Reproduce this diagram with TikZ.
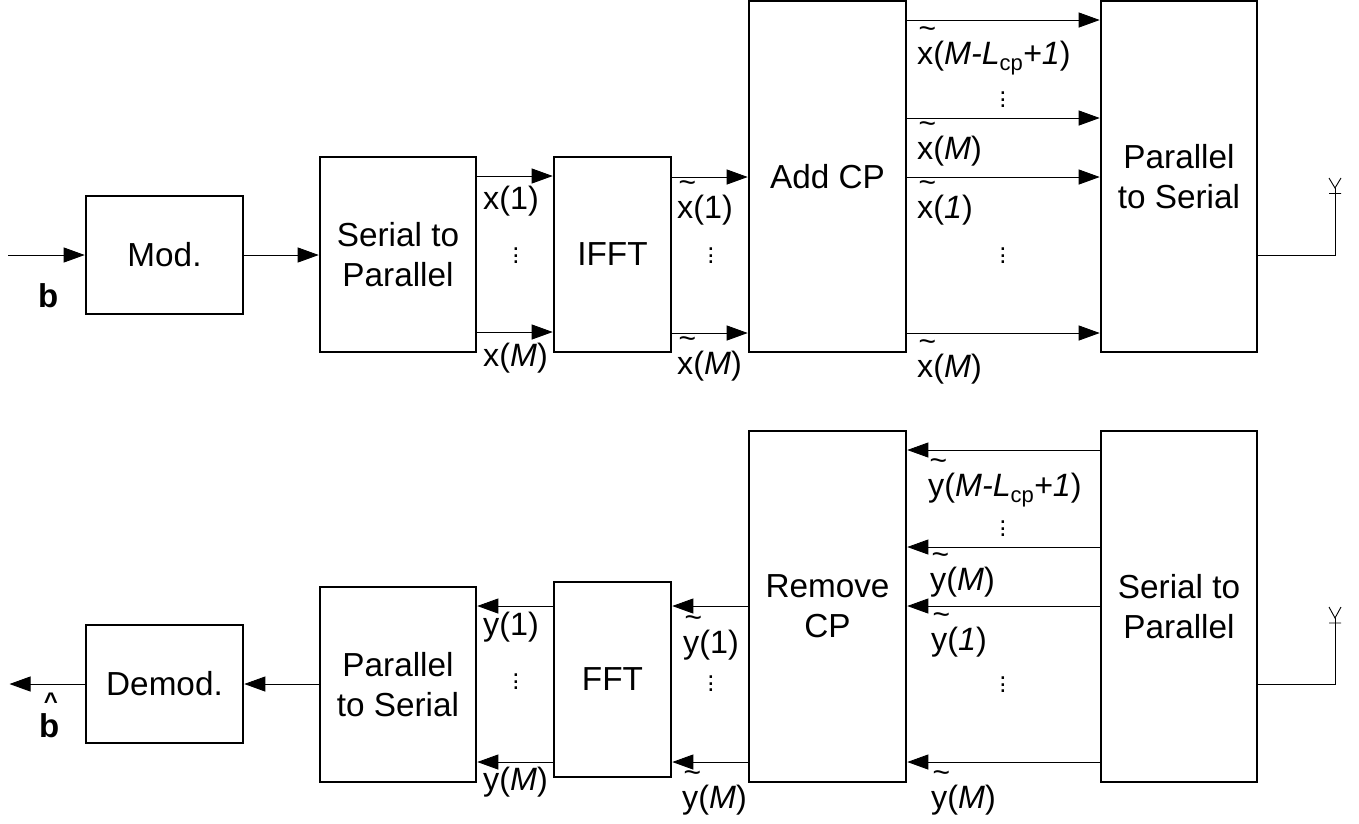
\documentclass[tikz,border=0pt]{standalone}
\usepackage{fontspec}
\setmainfont{Liberation Sans}
\usetikzlibrary{arrows.meta}
\newcommand\tildeover[1]{\leavevmode\rlap{\hspace{0.04em}\raisebox{0.8em}{\fontsize{30}{30}\selectfont\textasciitilde}}#1}
\newcommand\hatover[1]{\leavevmode\rlap{\hspace{0.14em}\raisebox{0.82em}{\fontsize{24}{24}\selectfont\textasciicircum}}#1}
\newcommand\sbs[1]{\raisebox{-0.2em}{\fontsize{22}{22}\selectfont #1}}
\tikzset{
 blockbox/.style={draw,line width=1.6pt,fill=white,inner sep=0pt,align=center,font=\fontsize{33.3}{40}\selectfont},
 sig/.style={line width=0.9pt,-{Triangle[length=21pt,width=15pt]},shorten >=0.5pt},
 wire/.style={line width=0.9pt},
 lab/.style={anchor=base west,inner sep=0pt,font=\fontsize{32.3}{36}\selectfont},
 boldlab/.style={lab,font=\fontsize{33}{36}\selectfont\bfseries},
 dotsn/.style={inner sep=0pt,font=\fontsize{16}{16}\selectfont}
}
\newcommand\vd{\scalebox{1.6}{$\vdots$}}
\begin{document}
\begin{tikzpicture}[x=1pt,y=-1pt]
\useasboundingbox (0,0) rectangle (1359,823);
\fill[white] (0,0) rectangle (1359,823);
% blocks, upper chain
\node[blockbox,minimum width=157pt,minimum height=118pt] (mod) at (164.5,255) {Mod.};
\node[blockbox,minimum width=156pt,minimum height=195pt] (sp) at (398,254.5) {Serial to\\Parallel};
\node[blockbox,minimum width=117pt,minimum height=195pt] (ifft) at (612.5,254.5) {IFFT};
\node[blockbox,minimum width=157pt,minimum height=351pt] (add) at (827.5,176.5) {Add CP};
\node[blockbox,minimum width=156pt,minimum height=351pt] (ps) at (1179,176.5) {Parallel\\to Serial};
% blocks, lower chain
\node[blockbox,minimum width=157pt,minimum height=118pt] (demod) at (164.5,684) {Demod.};
\node[blockbox,minimum width=156pt,minimum height=195pt] (ps2) at (398,684.5) {Parallel\\to Serial};
\node[blockbox,minimum width=117pt,minimum height=195pt] (fft) at (612.5,679.5) {FFT};
\node[blockbox,minimum width=157pt,minimum height=351pt] (rem) at (827.5,606.5) {Remove\\CP};
\node[blockbox,minimum width=156pt,minimum height=351pt] (sp2) at (1179,606.5) {Serial to\\Parallel};
% free ends
\coordinate (in) at (8,255);
\coordinate (out) at (9,684);
\coordinate (ant) at (1335,255);
\coordinate (ant2) at (1335,684);
\coordinate (anttop) at (1335,188);
\coordinate (ant2top) at (1335,618);
% upper connectors
\draw[sig] (in) -- (mod.west);
\draw[sig] (mod.east) -- (sp.west |- mod.east);
\foreach \yy in {176,332} \draw[sig] (sp.east |- 0,\yy) -- (ifft.west |- 0,\yy);
\foreach \yy in {177,333} \draw[sig] (ifft.east |- 0,\yy) -- (add.west |- 0,\yy);
\foreach \yy in {20,118,177,333} \draw[sig] (add.east |- 0,\yy) -- (ps.west |- 0,\yy);
\draw[wire] (ps.east |- ant) -- (ant) -- (anttop);
% lower connectors
\draw[sig] (demod.west) -- (out);
\draw[sig] (ps2.west |- demod.east) -- (demod.east);
\foreach \yy in {606,762} \draw[sig] (fft.west |- 0,\yy) -- (ps2.east |- 0,\yy);
\foreach \yy in {606,762} \draw[sig] (rem.west |- 0,\yy) -- (fft.east |- 0,\yy);
\foreach \yy in {450,547,606,762} \draw[sig] (sp2.west |- 0,\yy) -- (rem.east |- 0,\yy);
\draw[wire] (sp2.east |- ant2) -- (ant2) -- (ant2top);
% antennas
\draw[wire] (1329,178) -- (anttop) -- (1341,178) (1329,193.5) -- (1341,193.5);
\draw[wire] (1329,607) -- (ant2top) -- (1341,607) (1329,623) -- (1341,623);
% upper labels
\node[boldlab] (lb) at (38,307) {b};
\node[lab] (l1) at (483,209.5) {x(1)};
\node[lab] (l2) at (483,366) {x(\textit{M})};
\node[lab] (l3) at (677,218) {\tildeover{x}(1)};
\node[lab] (l4) at (677,374) {\tildeover{x}(\textit{M})};
\node[lab] (l5) at (917,64) {\tildeover{x}(\textit{M-L}\sbs{cp}\textit{+1})};
\node[lab] (l6) at (917,159.5) {\tildeover{x}(\textit{M})};
\node[lab] (l7) at (917,218.5) {\tildeover{x}(\textit{1})};
\node[lab] (l8) at (917,377) {\tildeover{x}(\textit{M})};
% lower labels
\node[boldlab] (lb2) at (39,737) {\hatover{b}};
\node[lab] (m1) at (483,635) {y(1)};
\node[lab] (m2) at (483,790.5) {y(\textit{M})};
\node[lab] (m3) at (683,653) {\tildeover{y}(1)};
\node[lab] (m4) at (682,808.5) {\tildeover{y}(\textit{M})};
\node[lab] (m5) at (928,496.5) {\tildeover{y}(\textit{M-L}\sbs{cp}\textit{+1})};
\node[lab] (m6) at (930,590.5) {\tildeover{y}(\textit{M})};
\node[lab] (m7) at (931,650) {\tildeover{y}(\textit{1})};
\node[lab] (m8) at (931,808.5) {\tildeover{y}(\textit{M})};
% dots
\foreach \n/\px/\py in {d1/1003/95,d2/516/251,d3/711/251,d4/1003/251,d5/1003/524,d6/516/677,d7/711/679,d8/1003/680}
  \node[dotsn] (\n) at (\px,\py) {\vd};
\end{tikzpicture}
\end{document}
